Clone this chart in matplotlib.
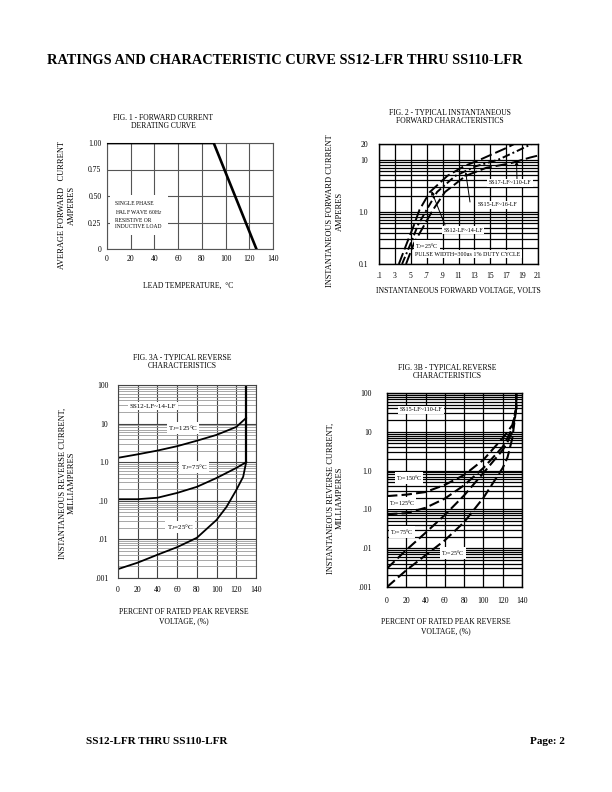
import numpy as np
import matplotlib.pyplot as plt
from matplotlib.ticker import LogLocator, NullFormatter

plt.rcParams['font.family'] = 'Liberation Serif'
plt.rcParams['mathtext.fontset'] = 'custom'
plt.rcParams['mathtext.rm'] = 'Liberation Serif'
plt.rcParams['mathtext.it'] = 'Liberation Serif:italic'

# Fig. 1 - derating curve
lead_temp = [0, 90, 126]
avg_current = [1.0, 1.0, 0.0]

# Fig. 2 - forward characteristics (volts, amperes)
vf_ss12 = [0.35, 0.45, 0.54, 0.61, 0.74, 0.96, 1.17, 1.37, 1.71, 1.80]
if_ss12 = [0.1, 0.25, 0.56, 1.1, 2.4, 4.9, 7.5, 10, 17, 20]
vf_ss15 = [0.39, 0.50, 0.59, 0.70, 0.83, 1.06, 1.32, 1.60, 1.85, 2.02]
if_ss15 = [0.1, 0.25, 0.56, 1.1, 2.4, 4.9, 7.5, 10, 15, 20]
vf_ss17 = [0.44, 0.54, 0.67, 0.78, 0.93, 1.19, 1.45, 1.75, 2.00, 2.10]
if_ss17 = [0.1, 0.25, 0.56, 1.1, 2.4, 4.9, 7.0, 8.5, 11, 12]
vf_ticks = [0.1, 0.3, 0.5, 0.7, 0.9, 1.1, 1.3, 1.5, 1.7, 1.9, 2.1]
vf_labels = ['.1', '3', '5', '.7', '.9', '11', '13', '15', '17', '19', '21']

# Fig. 3A - SS12~14 reverse current (mA) vs percent rated voltage
pct_125 = [0, 20, 40, 60, 80, 100, 120, 130]
ir_125 = [1.3, 1.6, 2.0, 2.6, 3.6, 5.1, 8.2, 14]
pct_75 = [0, 20, 40, 60, 80, 100, 120, 130]
ir_75 = [0.11, 0.11, 0.12, 0.16, 0.23, 0.39, 0.71, 1.0]
pct_25 = [0, 20, 40, 60, 80, 100, 110, 120, 127, 130]
ir_25 = [0.0017, 0.0025, 0.004, 0.0063, 0.011, 0.032, 0.069, 0.19, 0.42, 1.0]
pct_bd = [130, 130]
ir_bd = [1.0, 100]

# Fig. 3B - SS15~110 reverse current (mA)
pct_b = [0, 20, 40, 60, 80, 100, 120, 125, 130, 134, 134]
irb_150 = [0.22, 0.24, 0.28, 0.43, 0.77, 1.9, 6.9, 10, 15, 40, 100]
irb_125 = [0.075, 0.08, 0.11, 0.19, 0.42, 1.17, 4.1, 7.0, 12.5, 40, 100]
irb_75 = [0.003, 0.009, 0.025, 0.072, 0.23, 0.87, 3.4, 5.5, 10, 40, 100]
irb_25 = [0.001, 0.0027, 0.0066, 0.016, 0.047, 0.2, 1.17, 2.2, 6.9, 40, 100]

ir_ticks = [0.001, 0.01, 0.1, 1, 10, 100]
ir_labels = ['.001', '.01', '.10', '1.0', '10', '100']

W, H = 612, 792


def box(l, t, r, b):
    return [l / W, 1 - b / H, (r - l) / W, (b - t) / H]


def ftext(x, y, s, **kw):
    kw.setdefault('fontsize', 5.5)
    kw.setdefault('ha', 'center')
    kw.setdefault('va', 'center')
    fig.text(x / W, 1 - y / H, s, **kw)


white = dict(facecolor='white', edgecolor='none', pad=1.0)

fig = plt.figure(figsize=(6.12, 7.92), dpi=100)

ftext(285, 61, 'RATINGS AND CHARACTERISTIC CURVE SS12-LFR THRU SS110-LFR',
      fontsize=10.4, weight='bold')
ftext(86, 741, 'SS12-LFR THRU SS110-LFR', fontsize=8, weight='bold', ha='left')
ftext(565, 741, 'Page: 2', fontsize=8, weight='bold', ha='right')

# ---------------- Fig 1 ----------------
ax1 = fig.add_axes(box(107, 143, 273, 249))
ax1.plot(lead_temp, avg_current, color='black', lw=1.9, zorder=3)
ax1.set_xlim(0, 140)
ax1.set_ylim(0, 1.0)
ax1.set_xticks(range(0, 141, 20))
ax1.set_yticks([0, 0.25, 0.5, 0.75, 1.0])
ax1.set_yticklabels(['0', '0.25', '0.50', '0.75', '1.00'])
ax1.grid(True, color='#555555', lw=0.8)
ax1.tick_params(length=0, labelsize=5.5, pad=4)
for s in ax1.spines.values():
    s.set_color('#555555')
    s.set_linewidth(0.8)
ax1.text(0.05, 0.32, 'SINGLE PHASE\nHALF WAVE 60H$_Z$\nRESISTIVE OR\nINDUCTIVE LOAD',
         transform=ax1.transAxes, fontsize=4, va='center', ha='left',
         linespacing=1.3, bbox=dict(facecolor='white', edgecolor='none', pad=4))
ftext(163, 122, 'FIG. 1 - FORWARD CURRENT\nDERATING CURVE', linespacing=1.1)
ftext(67, 205, 'AVERAGE FORWARD   CURRENT\nAMPERES', rotation=90, fontsize=6,
      linespacing=1.2)
ftext(188, 286, 'LEAD TEMPERATURE,  °C', fontsize=5.5)

# ---------------- Fig 2 ----------------
ax2 = fig.add_axes(box(379, 144, 538, 264))
ax2.plot(vf_ss12, if_ss12, color='black', lw=1.4, dashes=(6, 2))
ax2.plot(vf_ss15, if_ss15, color='black', lw=1.4, dashes=(4, 1.5, 1, 1.5))
ax2.plot(vf_ss17, if_ss17, color='black', lw=1.4, dashes=(6, 2))
ax2.set_yscale('log')
ax2.set_xlim(0.1, 2.1)
ax2.set_ylim(0.1, 20)
ax2.set_xticks(vf_ticks)
ax2.set_xticklabels(vf_labels)
ax2.set_yticks([0.1, 1, 10, 20])
ax2.set_yticklabels(['0.1', '1.0', '10', '20'])
ax2.yaxis.set_minor_locator(LogLocator(subs=range(2, 10)))
ax2.yaxis.set_minor_formatter(NullFormatter())
ax2.grid(True, which='both', color='black', lw=0.9)
ax2.tick_params(which='both', length=0, labelsize=5.5)
ax2.tick_params(axis='x', pad=6)
ax2.tick_params(axis='y', pad=8)
for s in ax2.spines.values():
    s.set_linewidth(1.0)

pointers = [((1.83, 9.3), (517, 180)), ((1.19, 5.8), (470, 202)), ((0.76, 2.5), (445, 225))]
for (xy, start) in pointers:
    ax2.annotate('', xy=xy, xytext=(start[0], H - start[1]), textcoords='figure pixels',
                 arrowprops=dict(arrowstyle='-|>', lw=0.7, color='black',
                                 mutation_scale=5, shrinkA=0, shrinkB=0))
ftext(510, 183, 'SS17-LF~110-LF', fontsize=4.3, bbox=white)
ftext(497, 205, 'SS15-LF~16-LF', fontsize=4.3, bbox=white)
ftext(463, 230, 'SS12-LF~14-LF', fontsize=4.3, bbox=white)
ftext(415, 246, 'T$_J$=25°C', fontsize=4.3, ha='left', bbox=white)
ftext(415, 254, 'PULSE WIDTH=300us 1% DUTY CYCLE', fontsize=4.3, ha='left', bbox=white)
ftext(450, 117, 'FIG. 2 - TYPICAL INSTANTANEOUS\nFORWARD CHARACTERISTICS', linespacing=1.1)
ftext(335, 211, 'INSTANTANEOUS FORWARD CURRENT\nAMPERES', rotation=90, fontsize=6,
      linespacing=1.2)
ftext(458, 291, 'INSTANTANEOUS FORWARD VOLTAGE, VOLTS', fontsize=5.5)

# ---------------- Fig 3A ----------------
ax3 = fig.add_axes(box(118, 385, 256, 578))
ax3.plot(pct_125, ir_125, color='black', lw=1.3)
ax3.plot(pct_75, ir_75, color='black', lw=1.3)
ax3.plot(pct_25, ir_25, color='black', lw=1.3)
ax3.plot(pct_bd, ir_bd, color='black', lw=1.6)
ax3.set_yscale('log')
ax3.set_xlim(0, 140)
ax3.set_ylim(0.001, 100)
ax3.set_xticks(range(0, 141, 20))
ax3.set_yticks(ir_ticks)
ax3.set_yticklabels(ir_labels)
ax3.yaxis.set_minor_locator(LogLocator(subs=range(2, 10)))
ax3.yaxis.set_minor_formatter(NullFormatter())
ax3.grid(True, which='major', color='#444444', lw=0.8)
ax3.grid(True, which='minor', axis='y', color='#999999', lw=0.6)
ax3.tick_params(which='both', length=0, labelsize=5.5)
ax3.tick_params(axis='x', pad=6)
ax3.tick_params(axis='y', pad=7)
for s in ax3.spines.values():
    s.set_color('#444444')
    s.set_linewidth(0.8)
ftext(153, 406, 'SS12-LF~14-LF', fontsize=5, bbox=white)
ftext(183, 428, 'T$_J$=125°C', fontsize=5, bbox=white)
ftext(194, 467, 'T$_J$=75°C', fontsize=5, bbox=white)
ftext(180, 527, 'T$_J$=25°C', fontsize=5, bbox=white)
ftext(182, 362, 'FIG. 3A - TYPICAL REVERSE\nCHARACTERISTICS', linespacing=1.1)
ftext(67, 483, 'INSTANTANEOUS REVERSE CURRENT,\nMILLIAMPERES', rotation=90, fontsize=6,
      linespacing=1.2)
ftext(184, 617, 'PERCENT OF RATED PEAK REVERSE\nVOLTAGE, (%)', fontsize=5.5,
      linespacing=1.2)

# ---------------- Fig 3B ----------------
ax4 = fig.add_axes(box(387, 393, 522, 587))
for ir in (irb_150, irb_125, irb_75, irb_25):
    ax4.plot(pct_b, ir, color='black', lw=1.5, dashes=(5, 2))
ax4.set_yscale('log')
ax4.set_xlim(0, 140)
ax4.set_ylim(0.001, 100)
ax4.set_xticks(range(0, 141, 20))
ax4.set_yticks(ir_ticks)
ax4.set_yticklabels(ir_labels)
ax4.yaxis.set_minor_locator(LogLocator(subs=range(2, 10)))
ax4.yaxis.set_minor_formatter(NullFormatter())
ax4.grid(True, which='both', color='black', lw=0.9)
ax4.tick_params(which='both', length=0, labelsize=5.5)
ax4.tick_params(axis='x', pad=7)
ax4.tick_params(axis='y', pad=11)
for s in ax4.spines.values():
    s.set_linewidth(1.0)
ftext(421, 410, 'SS15-LF~110-LF', fontsize=4.3, bbox=white)
ftext(409, 478, 'T$_J$=150°C', fontsize=4.3, bbox=white)
ftext(402, 503, 'T$_J$=125°C', fontsize=4.3, bbox=white)
ftext(402, 532, 'T$_J$=75°C', fontsize=4.3, bbox=white)
ftext(453, 553, 'T$_J$=25°C', fontsize=4.3, bbox=white)
ftext(447, 372, 'FIG. 3B - TYPICAL REVERSE\nCHARACTERISTICS', linespacing=1.1)
ftext(335, 498, 'INSTANTANEOUS REVERSE CURRENT,\nMILLIAMPERES', rotation=90, fontsize=6,
      linespacing=1.2)
ftext(446, 627, 'PERCENT OF RATED PEAK REVERSE\nVOLTAGE, (%)', fontsize=5.5,
      linespacing=1.2)

fig.savefig('out.png', dpi=100)
